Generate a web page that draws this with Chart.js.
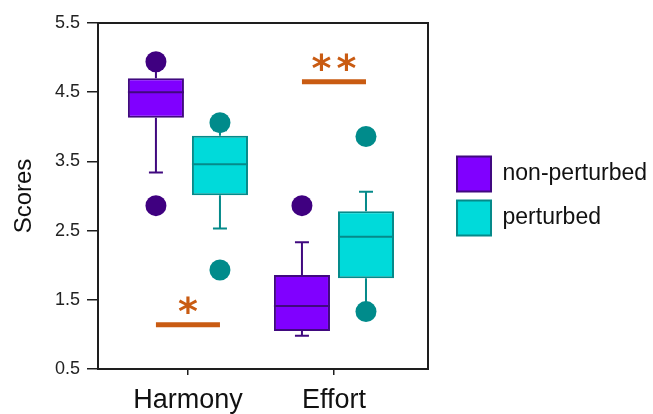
<!DOCTYPE html>
<html>
<head>
<meta charset="utf-8">
<script src="https://cdn.jsdelivr.net/npm/chart.js@4.4.0/dist/chart.umd.min.js"></script>
<style>
  html, body { margin: 0; padding: 0; background: #ffffff; }
  #wrap { width: 653px; height: 414px; position: relative; }
</style>
</head>
<body>
<div id="wrap"><canvas id="chart"></canvas></div>
<script>
// Categories and series
const categories = ['Harmony', 'Effort'];
const seriesNames = ['non-perturbed', 'perturbed'];
const yTickValues = [0.5, 1.5, 2.5, 3.5, 4.5, 5.5];

// non-perturbed box statistics, one entry per category
const npQ1 = [4.13, 1.05];
const npMedian = [4.50, 1.41];
const npQ3 = [4.70, 1.86];
const npWhiskerLow = [3.34, 0.98];
const npWhiskerHigh = [4.90, 2.33];
const npOutliers = [[4.94, 2.86], [2.86]];

// perturbed box statistics
const pQ1 = [3.01, 1.81];
const pMedian = [3.46, 2.41];
const pQ3 = [3.87, 2.78];
const pWhiskerLow = [2.53, 1.40];
const pWhiskerHigh = [3.95, 3.06];
const pOutliers = [[4.06, 1.93], [3.86, 1.33]];

// significance markers per category
const sigLevel = [1.14, 4.65];
const sigLabel = ['*', '**'];

const COLORS = {
  npFill: '#8000ff', npLine: '#40097f', npDot: '#3f0080',
  pFill: '#00dada', pLine: '#058a8a', pDot: '#008b8b',
  sig: '#c95b12', axis: '#1e1e1e', text: '#111111'
};

const stats = [
  { q1: npQ1, med: npMedian, q3: npQ3, lo: npWhiskerLow, hi: npWhiskerHigh, out: npOutliers, line: COLORS.npLine, dot: COLORS.npDot },
  { q1: pQ1, med: pMedian, q3: pQ3, lo: pWhiskerLow, hi: pWhiskerHigh, out: pOutliers, line: COLORS.pLine, dot: COLORS.pDot }
];

// whiskers, medians, outliers and significance bars, placed from the bar elements
const boxExtras = {
  id: 'boxExtras',
  afterDatasetsDraw(chart) {
    const ctx = chart.ctx;
    const y = chart.scales.y;
    ctx.save();
    stats.forEach((s, d) => {
      const meta = chart.getDatasetMeta(d);
      meta.data.forEach((bar, i) => {
        const x = bar.x, half = bar.width / 2, cap = 7;
        ctx.strokeStyle = s.line;
        ctx.lineWidth = 2;
        ctx.lineCap = 'butt';
        ctx.beginPath();
        // upper whisker
        ctx.moveTo(x, y.getPixelForValue(s.q3[i]));
        ctx.lineTo(x, y.getPixelForValue(s.hi[i]));
        ctx.moveTo(x - cap, y.getPixelForValue(s.hi[i]));
        ctx.lineTo(x + cap, y.getPixelForValue(s.hi[i]));
        // lower whisker
        ctx.moveTo(x, y.getPixelForValue(s.q1[i]));
        ctx.lineTo(x, y.getPixelForValue(s.lo[i]));
        ctx.moveTo(x - cap, y.getPixelForValue(s.lo[i]));
        ctx.lineTo(x + cap, y.getPixelForValue(s.lo[i]));
        // median
        ctx.moveTo(x - half, y.getPixelForValue(s.med[i]));
        ctx.lineTo(x + half, y.getPixelForValue(s.med[i]));
        ctx.stroke();
        // outliers
        ctx.fillStyle = s.dot;
        s.out[i].forEach(v => {
          ctx.beginPath();
          ctx.arc(x, y.getPixelForValue(v), 10.5, 0, Math.PI * 2);
          ctx.fill();
        });
      });
    });
    // significance bars between the two boxes of each category
    const m0 = chart.getDatasetMeta(0), m1 = chart.getDatasetMeta(1);
    categories.forEach((c, i) => {
      const x0 = m0.data[i].x, x1 = m1.data[i].x;
      const py = y.getPixelForValue(sigLevel[i]);
      ctx.strokeStyle = COLORS.sig;
      ctx.lineWidth = 5;
      ctx.beginPath();
      ctx.moveTo(x0, py);
      ctx.lineTo(x1, py);
      ctx.stroke();
      ctx.fillStyle = COLORS.sig;
      ctx.font = 'bold 38px "DejaVu Sans"';
      ctx.textAlign = 'center';
      ctx.textBaseline = 'alphabetic';
      ctx.letterSpacing = '5px';
      ctx.fillText(sigLabel[i], (x0 + x1) / 2 + 2.5, py - 1);
    });
    ctx.restore();
  }
};

const data = {
  datasets: [
    {
      label: seriesNames[0],
      data: categories.map((c, i) => ({ x: i + 1, y: [npQ1[i], npQ3[i]] })),
      backgroundColor: COLORS.npFill,
      borderColor: COLORS.npLine,
      borderWidth: 2,
      borderSkipped: false
    },
    {
      label: seriesNames[1],
      data: categories.map((c, i) => ({ x: i + 1, y: [pQ1[i], pQ3[i]] })),
      backgroundColor: COLORS.pFill,
      borderColor: COLORS.pLine,
      borderWidth: 2,
      borderSkipped: false
    }
  ]
};

new Chart(document.getElementById('chart'), {
  type: 'bar',
  data,
  plugins: [boxExtras],
  options: {
    responsive: true,
    maintainAspectRatio: false,
    animation: false,
    events: [],
    categoryPercentage: 0.877,
    barPercentage: 0.875,
    layout: { padding: { top: 23, left: 0, right: -4, bottom: 0 } },
    plugins: {
      tooltip: { enabled: false },
      legend: {
        position: 'right',
        fullSize: false,
        maxWidth: 240,
        labels: {
          boxWidth: 34,
          boxHeight: 35,
          padding: 9,
          color: COLORS.text,
          font: { family: '"Liberation Sans", Arial, sans-serif', size: 23 }
        }
      }
    },
    scales: {
      x: {
        type: 'linear',
        position: 'bottom',
        min: 0.384,
        max: 2.644,
        offset: false,
        afterBuildTicks: s => { s.ticks = categories.map((c, i) => ({ value: i + 1 })); },
        afterFit: s => { s.height = 45; },
        ticks: {
          callback: (v, i) => categories[i],
          color: COLORS.text,
          padding: 9,
          font: { family: '"Liberation Sans", Arial, sans-serif', size: 27 }
        },
        grid: { display: true, drawOnChartArea: false, drawTicks: true, tickLength: 6, color: COLORS.axis, lineWidth: 1.5, offset: false },
        border: { display: true, color: COLORS.axis, width: 2 }
      },
      xTop: {
        type: 'linear',
        position: 'top',
        min: 0, max: 1,
        afterFit: s => { s.height = 0; },
        ticks: { display: false },
        grid: { display: false, drawTicks: false },
        border: { display: true, color: COLORS.axis, width: 2 }
      },
      y: {
        type: 'linear',
        min: 0.5,
        max: 5.5,
        afterBuildTicks: s => { s.ticks = yTickValues.map(v => ({ value: v })); },
        afterFit: s => { s.width = 98; },
        ticks: {
          callback: v => v.toFixed(1),
          color: '#222222',
          padding: 7,
          font: { family: '"Liberation Sans", Arial, sans-serif', size: 18 }
        },
        grid: { display: true, drawOnChartArea: false, drawTicks: true, tickLength: 11, color: COLORS.axis, lineWidth: 1.5 },
        border: { display: true, color: COLORS.axis, width: 2 },
        title: {
          display: true,
          text: 'Scores',
          color: COLORS.text,
          padding: { top: 10, bottom: 0 },
          font: { family: '"Liberation Sans", Arial, sans-serif', size: 24 }
        }
      },
      yRight: {
        type: 'linear',
        position: 'right',
        min: 0, max: 1,
        afterFit: s => { s.width = 20; },
        ticks: { display: false },
        grid: { display: false, drawTicks: false },
        border: { display: true, color: COLORS.axis, width: 2 }
      }
    }
  }
});
</script>
</body>
</html>
